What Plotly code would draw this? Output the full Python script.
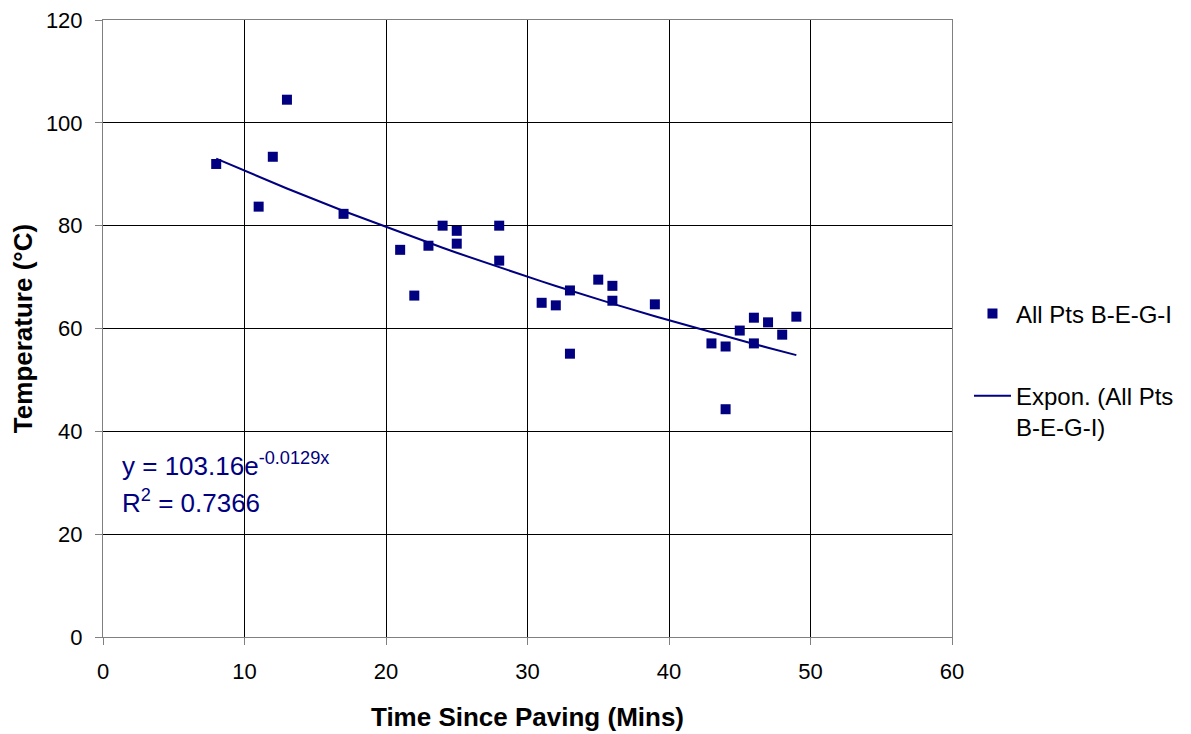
import numpy as np
import plotly.graph_objects as go

# Data
time_mins = [8, 11, 12, 13, 17, 21, 22, 23, 24, 25, 25, 28, 28, 31, 32, 33, 33,
             35, 36, 36, 39, 43, 44, 44, 45, 46, 46, 47, 48, 49]
temp_c = [92.0, 83.7, 93.4, 104.5, 82.3, 75.3, 66.4, 76.1, 80.0, 79.0, 76.5, 80.0, 73.2,
          65.0, 64.5, 67.4, 55.1, 69.5, 68.3, 65.4, 64.7, 57.1, 56.5, 44.3, 59.6,
          62.1, 57.1, 61.2, 58.8, 62.3]
x_ticks = [0, 10, 20, 30, 40, 50, 60]
y_ticks = [0, 20, 40, 60, 80, 100, 120]

# Exponential trendline coefficients (as shown on chart)
fit_a = 103.16
fit_b = -0.0129
r_squared = 0.7366

navy = "#000080"
FONT = "Liberation Sans, Arial"

trend_x = np.array(sorted(set(time_mins)), dtype=float)
trend_y = fit_a * np.exp(fit_b * trend_x)

fig = go.Figure()
fig.add_trace(go.Scatter(
    x=time_mins, y=temp_c, mode="markers", name="All Pts B-E-G-I",
    legendgroup="a",
    marker=dict(symbol="square", size=10, color=navy),
))
fig.add_trace(go.Scatter(
    x=trend_x, y=trend_y, mode="lines", name="Expon. (All Pts<br>B-E-G-I)",
    legendgroup="b",
    line=dict(color=navy, width=2),
))

fig.add_annotation(
    x=0.02, y=0.28, xref="paper", yref="paper", xanchor="left", yanchor="middle",
    text=f"y = {fit_a:.2f}e<sup>{fit_b:.4f}x</sup>", showarrow=False,
    font=dict(family=FONT, size=26, color=navy),
)
fig.add_annotation(
    x=0.02, y=0.22, xref="paper", yref="paper", xanchor="left", yanchor="middle",
    text=f"R<sup>2</sup> = {r_squared:.4f}", showarrow=False,
    font=dict(family=FONT, size=26, color=navy),
)

axis_common = dict(
    showgrid=True, gridcolor="black", gridwidth=1,
    showline=True, linecolor="#808080", linewidth=1, mirror=True,
    ticks="outside", ticklen=7, tickcolor="#808080",
    zeroline=False, ticklabelstandoff=8, automargin=False,
    ticklabeloverflow="allow",
    tickfont=dict(family=FONT, size=22, color="black"),
)

fig.update_layout(
    width=1183, height=726,
    margin=dict(l=95, r=239, t=12, b=97),
    paper_bgcolor="white", plot_bgcolor="white",
    font=dict(family=FONT, color="black"),
    xaxis=dict(range=[0, 60], tickmode="array", tickvals=x_ticks,
               title=dict(text="<b>Time Since Paving (Mins)</b>",
                          font=dict(size=26, family=FONT), standoff=24),
               **axis_common),
    yaxis=dict(range=[0, 120], tickmode="array", tickvals=y_ticks,
               title=dict(text="<b>Temperature (°C)</b>",
                          font=dict(size=26, family=FONT), standoff=8),
               **axis_common),
    legend=dict(x=1.02, y=0.56, xanchor="left", yanchor="top", valign="top",
                font=dict(family=FONT, size=24, color="black"),
                tracegroupgap=48, traceorder="grouped", itemwidth=37),
)

fig.write_html("out.html")
